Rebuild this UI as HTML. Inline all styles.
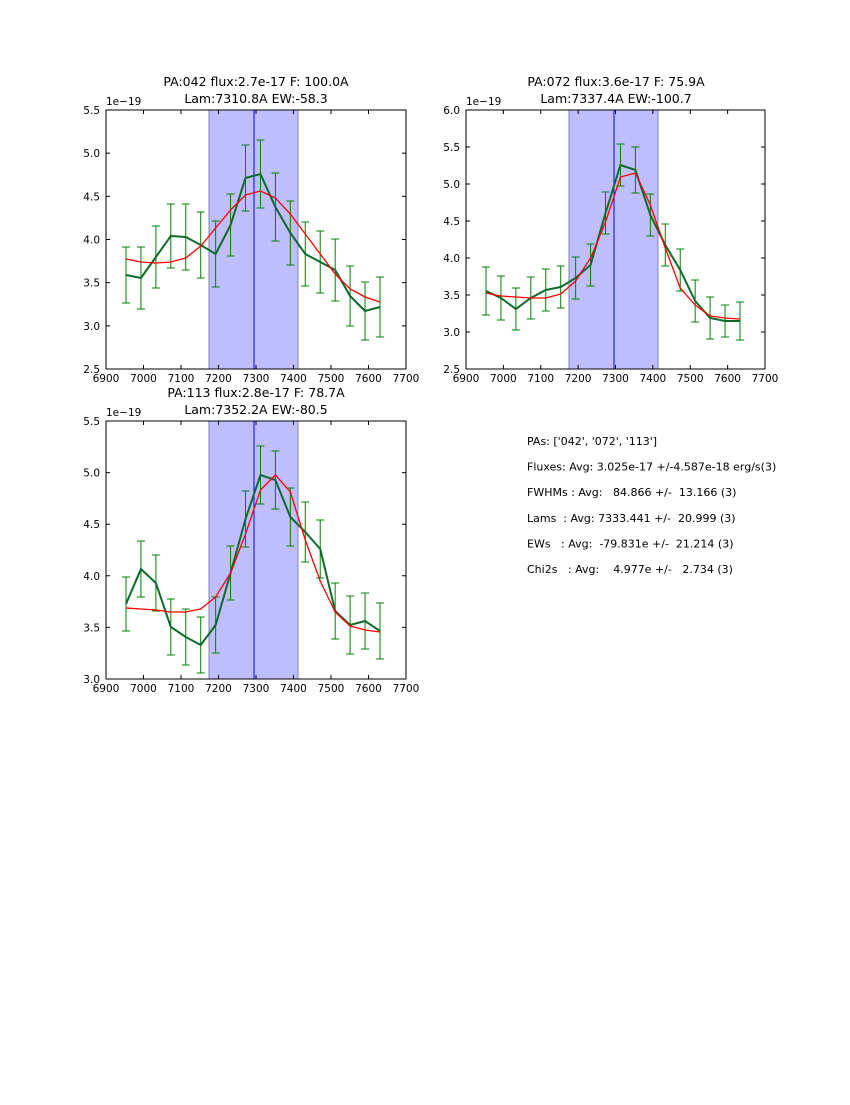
<!DOCTYPE html>
<html><head><meta charset="utf-8"><style>
body{margin:0;background:#fff;}
svg text{font-family:"DejaVu Sans","Liberation Sans",sans-serif;fill:#000}
</style></head><body>
<svg id="s" width="850" height="1100" xmlns="http://www.w3.org/2000/svg"></svg>
<script>
const S=document.getElementById('s');let h='';
const xs=[];for(let i=0;i<18;i++)xs.push(126+i*14.94);
function panel(x0,y0,w,hh,yt,ylab,g,r,err,t1,t2){
  const x1=x0+w,y1=y0+hh;
  h+=`<rect x="${x0+103}" y="${y0}" width="${89}" height="${hh}" fill="#bfbfff" stroke="#8080c0" stroke-width="1"/>`;
  h+=`<line x1="${x0+148}" y1="${y0}" x2="${x0+148}" y2="${y1}" stroke="#0000ff" stroke-width="1"/>`;
  const dx=x0-106;
  g.forEach((v,i)=>{const x=xs[i]+dx,e=err[i];
    h+=`<path d="M${x},${v-e}V${v+e}M${x-4},${v-e}h8M${x-4},${v+e}h8" stroke="#008000" stroke-width="1" fill="none"/>`;});
  h+=`<polyline points="${g.map((v,i)=>(xs[i]+dx)+','+v).join(' ')}" fill="none" stroke="#0d6a2a" stroke-width="2"/>`;
  h+=`<polyline points="${r.map((v,i)=>(xs[i]+dx)+','+v).join(' ')}" fill="none" stroke="#ff0000" stroke-width="1.3"/>`;
  h+=`<rect x="${x0}" y="${y0}" width="${w}" height="${hh}" fill="none" stroke="#000" stroke-width="1"/>`;
  for(let k=0;k<=8;k++){const x=x0+k*w/8;
    h+=`<path d="M${x},${y1}v-4M${x},${y0}v4" stroke="#000"/>`;
    h+=`<text x="${x}" y="${y1+13}" font-size="10.5" text-anchor="middle">${6900+k*100}</text>`;}
  const n=yt.length;
  yt.forEach((t,k)=>{const y=y1-k*hh/(n-1);
    h+=`<path d="M${x0},${y}h4M${x1},${y}h-4" stroke="#000"/>`;
    h+=`<text x="${x0-6}" y="${y+4}" font-size="10.5" text-anchor="end">${t}</text>`;});
  h+=`<text x="${x0}" y="${y0-5}" font-size="10.5">1e−19</text>`;
  h+=`<text x="${x0+150}" y="${y0-24}" font-size="12.5" text-anchor="middle">${t1}</text>`;
  h+=`<text x="${x0+150}" y="${y0-7}" font-size="12.5" text-anchor="middle">${t2}</text>`;
}
panel(106,110,300,259,['2.5','3.0','3.5','4.0','4.5','5.0','5.5'],0,
[275,278,257,236,237,245,254,225,178,174,207,233,254,262,270,296,311,307],
[259,262,263,262,258,246,228,210,195,191,198,214,234,254,274,289,297,302],
[28,31,31,32,33,33,33,31,33,34,34,32,32,31,31,30,29,30],'PA:042 flux:2.7e-17 F: 100.0A','Lam:7310.8A EW:-58.3');
panel(466,110,299,259,['2.5','3.0','3.5','4.0','4.5','5.0','5.5','6.0'],0,
[291,298,309,298,290,287,278,265,213,165,170,215,245,270,301,318,321,321],
[293,296,297,298,298,294,281,258,222,177,173,205,248,288,305,316,318,319],
[24,22,21,21,21,21,21,21,21,21,23,21,21,21,21,21,16,19],'PA:072 flux:3.6e-17 F: 75.9A','Lam:7337.4A EW:-100.7');
panel(106,421,300,258,['3.0','3.5','4.0','4.5','5.0','5.5'],0,
[604,569,583,627,637,645,625,573,519,475,480,517,532,549,611,625,621,631],
[608,609,610,612,612,609,597,573,534,490,475,492,540,581,612,626,630,632],
[27,28,28,28,28,28,28,27,28,29,29,29,30,29,28,29,28,28],'PA:113 flux:2.8e-17 F: 78.7A','Lam:7352.2A EW:-80.5');
const info=["PAs: ['042', '072', '113']","Fluxes: Avg: 3.025e-17 +/-4.587e-18 erg/s(3)","FWHMs : Avg:   84.866 +/-  13.166 (3)","Lams  : Avg: 7333.441 +/-  20.999 (3)","EWs   : Avg:  -79.831e +/-  21.214 (3)","Chi2s   : Avg:    4.977e +/-   2.734 (3)"];
info.forEach((t,i)=>{h+=`<text x="527" y="${445+i*25.6}" font-size="11" xml:space="preserve">${t}</text>`;});
S.innerHTML=h;
</script>
</body></html>
